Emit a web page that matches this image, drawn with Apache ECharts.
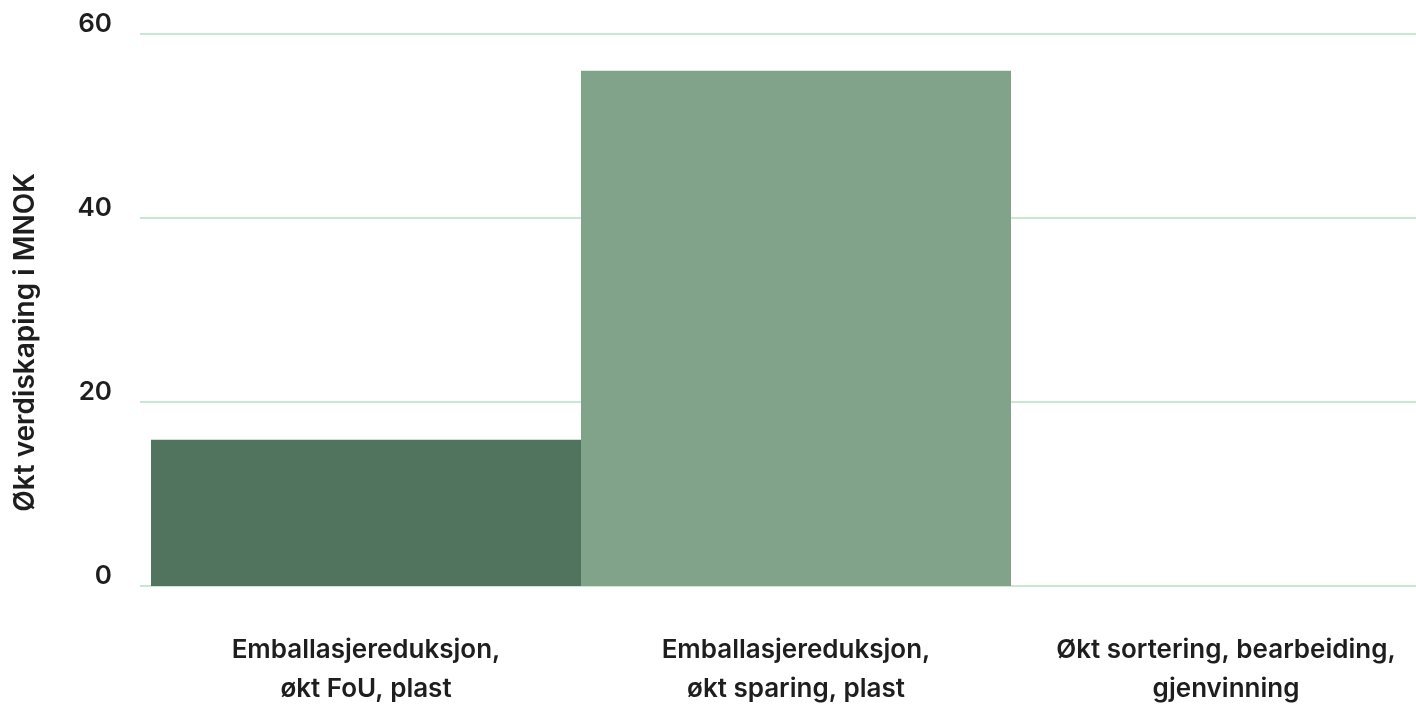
<!DOCTYPE html>
<html>
<head>
<meta charset="utf-8">
<script src="https://cdn.jsdelivr.net/npm/echarts@6/dist/echarts.min.js"></script>
<style>html,body{margin:0;padding:0;background:#fff}#c{width:1416px;height:704px}</style>
</head>
<body>
<div id="c"></div>
<script>
const categories = ['Emballasjereduksjon,\nøkt FoU, plast', 'Emballasjereduksjon,\nøkt sparing, plast', 'Økt sortering, bearbeiding,\ngjenvinning'];
const values = [15.9, 56.0, 0];
const barColors = ['#51745f', '#80a38a', '#9fc3a8'];
const yTicks = [0, 20, 40, 60];
const yTitle = 'Økt verdiskaping i MNOK';

const font = 'Inter, "Noto Sans", sans-serif';
const chart = echarts.init(document.getElementById('c'), null, {renderer: 'canvas'});
chart.setOption({
  animation: false,
  grid: [
    {left: 140, right: 0, top: 34, bottom: 118, containLabel: false, outerBoundsMode: 'none'},
    {left: 151, width: 1290, top: 34, bottom: 118, containLabel: false, outerBoundsMode: 'none'}
  ],
  xAxis: [
    {type: 'category', gridIndex: 0, data: categories, show: false},
    {type: 'category', gridIndex: 1, data: categories,
     axisLine: {show: false}, axisTick: {show: false},
     axisLabel: {color: '#1e1e1e', fontFamily: font, fontWeight: 600, fontSize: 26, lineHeight: 39, margin: 45, interval: 0}}
  ],
  yAxis: [
    {type: 'value', gridIndex: 0, min: 0, max: 60, interval: 20,
     axisLine: {show: false}, axisTick: {show: false},
     axisLabel: {color: '#1e1e1e', fontFamily: font, fontWeight: 600, fontSize: 26, margin: 28,
       verticalAlign: 'bottom', lineHeight: 19,
       formatter: v => yTicks.includes(v) ? String(v) : ''},
     splitLine: {lineStyle: {color: '#b7e0c2', width: 1.5}}},
    {type: 'value', gridIndex: 1, min: 0, max: 60, interval: 20, show: false, splitLine: {show: false}}
  ],
  series: [{
    type: 'bar', xAxisIndex: 1, yAxisIndex: 1,
    barWidth: '100%',
    data: values.map((v, i) => ({value: v, itemStyle: {color: barColors[i]}}))
  }],
  graphic: [{
    type: 'text', left: 12, top: 173, rotation: Math.PI / 2,
    style: {text: yTitle, fill: '#1e1e1e', font: '600 28px ' + font}
  }]
});
</script>
</body>
</html>
